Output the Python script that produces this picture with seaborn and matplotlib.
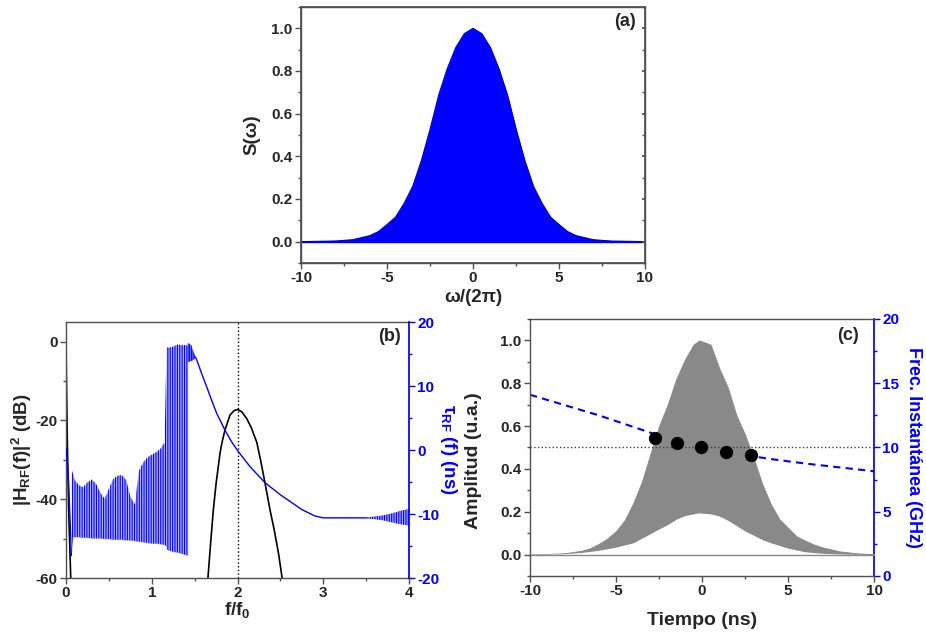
import numpy as np
import pandas as pd
import matplotlib
matplotlib.use("Agg")
import matplotlib.pyplot as plt
import seaborn as sns
from matplotlib.ticker import MultipleLocator

sns.set_theme(style="ticks")
plt.rcParams['font.family'] = ['Liberation Sans', 'DejaVu Sans']
plt.rcParams['font.weight'] = 'bold'
plt.rcParams['axes.labelweight'] = 'bold'
plt.rcParams['axes.unicode_minus'] = False
plt.rcParams['mathtext.fontset'] = 'custom'
plt.rcParams['mathtext.rm'] = 'Liberation Sans:bold'
plt.rcParams['mathtext.bf'] = 'Liberation Sans:bold'
plt.rcParams['mathtext.it'] = 'Liberation Sans:bold'
plt.rcParams['mathtext.default'] = 'rm'
plt.rcParams['hatch.color'] = 'blue'
plt.rcParams['hatch.linewidth'] = 0.8

# ---------------- Panel (a): spectrum envelope ----------------
a_w = [-10, -8, -7, -6, -5.5, -5, -4.5, -4, -3.5, -3, -2.5, -2, -1.5, -1, -0.5, 0,
       0.5, 1, 1.5, 2, 2.5, 3, 3.5, 4, 4.5, 5, 5.5, 6, 7, 8, 10]
a_s = [0.0, 0.003, 0.009, 0.028, 0.047, 0.08, 0.115, 0.18, 0.26, 0.38, 0.525, 0.685, 0.81, 0.91, 0.975, 1.0,
       0.975, 0.91, 0.81, 0.685, 0.525, 0.38, 0.26, 0.18, 0.115, 0.08, 0.047, 0.028, 0.009, 0.003, 0.0]

# ---------------- Panel (b) ----------------
b_black0_f = [0.0, 0.005, 0.015, 0.03, 0.055]
b_black0_db = [0.0, -10, -25, -42, -60]
b_black_f = [1.655, 1.685, 1.718, 1.75, 1.796, 1.82, 1.854, 1.913, 1.96, 2.0,
             2.05, 2.107, 2.16, 2.224, 2.27, 2.32, 2.379, 2.43, 2.48, 2.52]
b_black_db = [-60, -51.5, -42.7, -36, -28.3, -25.5, -22.4, -18.6, -17.5, -17.2,
              -17.8, -19.5, -21.8, -25.5, -30.2, -35.8, -42.7, -48, -54, -60]

b_tau0_f = [0.0, 0.01, 0.03, 0.05, 0.062]
b_tau0 = [0.3, -1.0, -5.0, -12.0, -16.5]

b_band_f = [0.062, 0.08, 0.1, 0.15, 0.2, 0.25, 0.3, 0.35, 0.4, 0.45, 0.5, 0.55, 0.6, 0.65,
            0.7, 0.75, 0.8, 0.85, 0.9, 0.95, 1.0, 1.05, 1.1, 1.15, 1.165, 1.17, 1.2, 1.25,
            1.3, 1.35, 1.4, 1.42]
b_band_hi = [-3.0, -3.7, -4.7, -5.5, -5.8, -5.0, -4.6, -5.3, -6.7, -7.6, -6.0, -4.5, -4.0, -3.9,
             -4.7, -7.3, -8.5, -3.2, -1.9, -1.1, -0.7, -0.3, 0.2, 1.25, 11.4, 16.1, 16.0, 16.2,
             16.5, 16.4, 16.4, 16.3]
b_band_lo = [-16.5, -13.6, -13.6, -13.6, -13.7, -13.7, -13.8, -13.8, -13.8, -13.9, -13.9, -14.0, -14.0, -14.0,
             -14.1, -14.1, -14.2, -14.3, -14.4, -14.5, -14.6, -14.6, -14.7, -14.8, -15.0, -15.5, -15.7, -15.9,
             -16.0, -16.2, -16.4, -16.5]

b_wig_f = [1.42, 1.44, 1.46, 1.48, 1.51]
b_wig_hi = [16.7, 16.6, 16.4, 15.6, 14.6]
b_wig_lo = [13.8, 13.8, 13.9, 14.0, 14.4]

b_tau_f = [1.51, 1.524, 1.58, 1.64, 1.70, 1.757, 1.854, 1.93, 2.01, 2.146, 2.32, 2.5, 2.75, 2.9, 3.0, 3.5]
b_tau = [14.5, 14.1, 12.0, 9.9, 7.7, 5.73, 3.1, 1.3, -0.26, -2.6, -5.1, -7.0, -9.3, -10.3, -10.6, -10.6]

b_end_f = [3.5, 3.6, 3.7, 3.8, 3.9, 4.0]
b_end_hi = [-10.5, -10.4, -10.2, -9.9, -9.5, -9.2]
b_end_lo = [-10.7, -10.8, -11.0, -11.3, -11.6, -11.8]

# ---------------- Panel (c) ----------------
c_t_hi = [-10, -8, -7, -6.5, -6, -5.5, -5, -4.5, -4, -3.5, -3, -2.5, -2, -1.5, -1, -0.5, -0.16,
          0.5, 1, 1.5, 2, 2.5, 3, 3.5, 4, 4.5, 5, 5.5, 6, 6.5, 7, 8, 9, 10]
c_hi = [0.0, 0.006, 0.018, 0.03, 0.05, 0.075, 0.11, 0.16, 0.24, 0.34, 0.47, 0.60, 0.70, 0.82, 0.91, 0.98, 1.0,
        0.98, 0.87, 0.78, 0.65, 0.56, 0.45, 0.33, 0.235, 0.165, 0.125, 0.085, 0.065, 0.047, 0.034, 0.015, 0.006, 0.002]
c_t_lo = [-10, -8, -7, -6, -5, -4, -3, -2.5, -2, -1.5, -1, -0.2, 0.5, 1, 1.5, 2, 2.5, 3, 3.5, 4, 5, 6, 7, 8, 10]
c_lo = [0.0, 0.004, 0.01, 0.02, 0.035, 0.055, 0.098, 0.12, 0.14, 0.165, 0.182, 0.195, 0.19, 0.18, 0.16, 0.135,
        0.11, 0.09, 0.07, 0.055, 0.03, 0.013, 0.006, 0.003, 0.0]

c_freq_t = [-10, -8, -6, -4, -2, 0, 2, 4, 6, 8, 10]
c_freq = [14.1, 13.3, 12.5, 11.6, 10.7, 10.0, 9.5, 9.1, 8.75, 8.45, 8.15]

c_dot_t = [-2.71, -1.45, -0.06, 1.41, 2.83]
c_dot_a = [0.546, 0.523, 0.50, 0.479, 0.466]

TICK_FS = 11
LAB_FS = 13.5
SPINE = '#505050'

fig = plt.figure(figsize=(9.26, 6.34), dpi=100)

def style_axes(ax, color=SPINE):
    for s in ax.spines.values():
        s.set_color(color)
        s.set_linewidth(1.0)
    ax.tick_params(which='major', direction='out', length=4, width=1, color=color,
                   labelsize=TICK_FS, pad=2)
    ax.tick_params(which='minor', direction='out', length=2.5, width=1, color=color)
    for lab in ax.get_xticklabels() + ax.get_yticklabels():
        lab.set_fontweight('bold')

def style_right(ax, color='blue'):
    for s in ax.spines.values():
        s.set_visible(False)
    ax.spines['right'].set_visible(True)
    ax.spines['right'].set_color(color)
    ax.tick_params(which='major', direction='out', length=4, width=1, color=color,
                   labelcolor=color, labelsize=TICK_FS, pad=2)
    ax.tick_params(which='minor', direction='out', length=2.5, width=1, color=color)
    for lab in ax.get_yticklabels():
        lab.set_fontweight('bold')

# ---- (a)
axa = fig.add_axes([0.325, 0.5852, 0.3715, 0.4038])
axa.fill_between(a_w, 0, a_s, color='blue', linewidth=0.8)
sns.lineplot(x=a_w, y=a_s, ax=axa, color='#0000cc', linewidth=0.8)
sns.lineplot(x=[-10, 10], y=[0, 0], ax=axa, color='blue', linewidth=1.0)
axa.set_xlim(-10, 10)
axa.set_ylim(-0.1, 1.1)
axa.set_xticks([-10, -5, 0, 5, 10])
axa.set_yticks([0, 0.2, 0.4, 0.6, 0.8, 1.0])
axa.set_yticklabels(['0.0', '0.2', '0.4', '0.6', '0.8', '1.0'])
axa.xaxis.set_minor_locator(MultipleLocator(2.5))
axa.yaxis.set_minor_locator(MultipleLocator(0.1))
style_axes(axa)
axa.set_xlabel('ω/(2π)', fontsize=LAB_FS, fontweight='bold', labelpad=3)
axa.set_ylabel('S(ω)', fontsize=LAB_FS, fontweight='bold', labelpad=8)
axa.text(0.975, 0.975, '(a)', transform=axa.transAxes, ha='right', va='top',
         fontsize=13, fontweight='bold')
axa2 = axa.twinx()
axa2.set_ylim(-0.1, 1.1)
axa2.set_yticks([0, 0.2, 0.4, 0.6, 0.8, 1.0])
axa2.yaxis.set_minor_locator(MultipleLocator(0.1))
axa2.tick_params(which='both', direction='in', length=2, color=SPINE, labelright=False)
for s in axa2.spines.values():
    s.set_color(SPINE)

# ---- (b)
axb = fig.add_axes([0.0713, 0.0883, 0.3704, 0.4038])
sns.lineplot(x=b_black0_f, y=b_black0_db, ax=axb, color='black', linewidth=1.2)
sns.lineplot(x=b_black_f, y=b_black_db, ax=axb, color='black', linewidth=1.2)
axb.axvline(2.0, color='black', linestyle=':', linewidth=1.0)
axb.set_xlim(0, 4)
axb.set_ylim(-60, 5)
axb.set_xticks([0, 1, 2, 3, 4])
axb.set_yticks([0, -20, -40, -60])
axb.xaxis.set_minor_locator(MultipleLocator(0.5))
axb.yaxis.set_minor_locator(MultipleLocator(10))
style_axes(axb)
axb.spines['right'].set_visible(False)
axb.set_xlabel('f/f$_0$', fontsize=LAB_FS, fontweight='bold', labelpad=0)
axb.set_ylabel('|H$_{RF}$(f)|$^2$ (dB)', fontsize=LAB_FS, fontweight='bold', labelpad=1)
axb.text(0.975, 0.975, '(b)', transform=axb.transAxes, ha='right', va='top',
         fontsize=13, fontweight='bold')

axb2 = axb.twinx()
sns.lineplot(x=b_tau0_f, y=b_tau0, ax=axb2, color='blue', linewidth=1.0)
axb2.fill_between(b_band_f, b_band_lo, b_band_hi, facecolor='none', edgecolor='blue',
                  hatch='|||||||', linewidth=0)
axb2.fill_between(b_band_f, b_band_lo, b_band_hi, facecolor=(0, 0, 1, 0.3), linewidth=0)
axb2.fill_between(b_wig_f, b_wig_lo, b_wig_hi, facecolor=(0, 0, 1, 0.6), edgecolor='blue',
                  hatch='|||||||', linewidth=0)
sns.lineplot(x=b_tau_f, y=b_tau, ax=axb2, color='blue', linewidth=1.0)
axb2.fill_between(b_end_f, b_end_lo, b_end_hi, facecolor=(0, 0, 1, 0.35), edgecolor='blue',
                  hatch='|||||||', linewidth=0)
axb2.set_ylim(-20, 20)
axb2.set_yticks([-20, -10, 0, 10, 20])
axb2.yaxis.set_minor_locator(MultipleLocator(5))
style_right(axb2)
axb2.set_ylabel('τ$_{RF}$ (f) (ns)', fontsize=LAB_FS, fontweight='bold', color='blue',
                rotation=270, labelpad=14)

# ---- (c)
axc = fig.add_axes([0.5724, 0.0915, 0.3715, 0.4054])
axc.fill_between(c_t_hi, 0, c_hi, color='#898989', linewidth=0.6)
axc.fill_between(c_t_lo, 0, c_lo, color='white', linewidth=0)
sns.lineplot(x=[-10, 10], y=[0, 0], ax=axc, color='#898989', linewidth=1.0)
axc.axhline(0.5, color='#404040', linestyle=':', linewidth=1.0)
sns.scatterplot(x=c_dot_t, y=c_dot_a, ax=axc, color='black', s=78, edgecolor='black', zorder=5)
axc.set_xlim(-10, 10)
axc.set_ylim(-0.1, 1.1)
axc.set_xticks([-10, -5, 0, 5, 10])
axc.set_yticks([0, 0.2, 0.4, 0.6, 0.8, 1.0])
axc.set_yticklabels(['0.0', '0.2', '0.4', '0.6', '0.8', '1.0'])
axc.xaxis.set_minor_locator(MultipleLocator(2.5))
axc.yaxis.set_minor_locator(MultipleLocator(0.1))
style_axes(axc)
axc.spines['right'].set_visible(False)
axc.set_xlabel('Tiempo (ns)', fontsize=14, fontweight='bold', labelpad=10)
axc.set_ylabel('Amplitud (u.a.)', fontsize=14, fontweight='bold')
axc.yaxis.set_label_coords(-0.14, 0.447)
axc.text(0.955, 0.97, '(c)', transform=axc.transAxes, ha='right', va='top',
         fontsize=13, fontweight='bold')

axc2 = axc.twinx()
sns.lineplot(x=c_freq_t, y=c_freq, ax=axc2, color='blue', linewidth=1.5,
             linestyle=(0, (3.5, 2.5)))
axc2.set_ylim(0, 20)
axc2.set_yticks([0, 5, 10, 15, 20])
axc2.yaxis.set_minor_locator(MultipleLocator(2.5))
style_right(axc2)
axc2.set_ylabel('Frec. Instantánea (GHz)', fontsize=13, fontweight='bold', color='blue',
                rotation=270, labelpad=16)
axc.set_zorder(axc2.get_zorder() + 1)
axc.patch.set_visible(False)

fig.savefig('out.png', dpi=100)
